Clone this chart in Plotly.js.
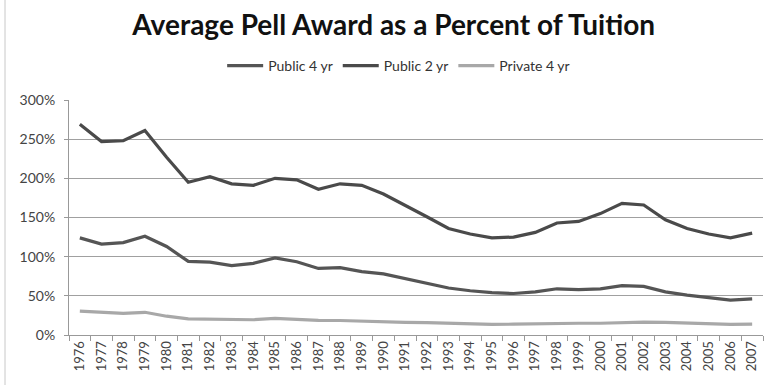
<!DOCTYPE html>
<html><head><meta charset="utf-8">
<script src="https://cdn.plot.ly/plotly-3.0.1.min.js"></script>
<style>html,body{margin:0;padding:0;background:#fff}#chart{width:769px;height:385px}</style>
</head><body><div id="chart"></div>
<script>
const years = ["1976","1977","1978","1979","1980","1981","1982","1983","1984","1985","1986","1987","1988","1989","1990","1991","1992","1993","1994","1995","1996","1997","1998","1999","2000","2001","2002","2003","2004","2005","2006","2007"];
const public4yr = [124,116,118,126,113,94,93,88.5,91.5,98.5,93.5,85,86,81,78,72,66,60,56.5,54,53,55,59,58,59,63,62,55,51,47.5,44.5,46];
const public2yr = [269,247,248,261,227,195,202,193,191,200,198,186,193,191,180,166,151,136,129,124,125,131,143,145,155,168,166,147,136,129,124,130];
const private4yr = [30.5,28.5,27.5,29,24,20.5,20,19.5,19.5,21.3,20,18.7,18.5,17.5,16.5,16,15.7,15,14,13.5,13.8,14.4,15,15,15,15.8,16.5,16,15,14.5,13.5,13.8];
const seriesNames = ["Public 4 yr","Public 2 yr","Private 4 yr"];

const fontFam = "Lato, 'Open Sans', sans-serif";
const traces = [
  {x: years, y: public4yr, name: seriesNames[0], type:'scatter', mode:'lines', line:{color:'#555555', width:3.2}},
  {x: years, y: public2yr, name: seriesNames[1], type:'scatter', mode:'lines', line:{color:'#4a4a4a', width:3.2}},
  {x: years, y: private4yr, name: seriesNames[2], type:'scatter', mode:'lines', line:{color:'#a8a8a8', width:3.2}}
];
const layout = {
  width: 769, height: 385,
  margin: {l:69, r:6, t:100, b:50},
  paper_bgcolor:'#ffffff', plot_bgcolor:'#ffffff',
  font: {family: fontFam, color:'#444'},
  title: {text:'<b>Average Pell Award as a Percent of Tuition</b>', x:0.512, xanchor:'center', y:0.935, yanchor:'middle',
          font:{family: fontFam, size:28, color:'#111'}},
  showlegend: true,
  legend: {orientation:'h', x:0.475, xanchor:'center', y:1.145, yanchor:'middle', font:{size:14, color:'#333'}, itemwidth:36, traceorder:'normal'},
  xaxis: {type:'category', tickangle:-90, tickfont:{size:13, color:'#444'}, showgrid:false,
          showline:true, linecolor:'#999', linewidth:1, ticks:'outside', tickson:'boundaries', ticklen:5, tickcolor:'#999',
          range:[-0.5, 31.5]},
  yaxis: {range:[0,300], dtick:50, ticksuffix:'%', tickfont:{size:14, color:'#444'}, showgrid:true, gridcolor:'#a0a0a0', gridwidth:1,
          showline:true, linecolor:'#999', linewidth:1, ticks:'outside', ticklen:4, tickcolor:'#999', zeroline:false, ticklabelstandoff:6},
  shapes: [{type:'line', xref:'paper', yref:'paper', x0:-0.0922, x1:-0.0922, y0:-0.25, y1:1.45, line:{color:'#c8c8c8', width:1}}]
};
Plotly.newPlot('chart', traces, layout, {displayModeBar:false, staticPlot:true});
</script></body></html>
